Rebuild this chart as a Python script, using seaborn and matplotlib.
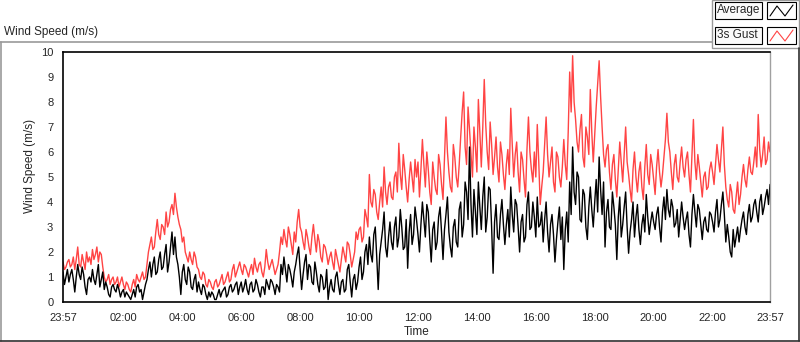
import numpy as np
import pandas as pd
import matplotlib
matplotlib.use("Agg")
import matplotlib.pyplot as plt
from matplotlib.patches import Rectangle
from matplotlib.lines import Line2D
import seaborn as sns

# Wind speed logged over one day, one reading every 3 minutes starting 23:57
# (one row = one hour)
step_min = 3
average = [
    1.2, 0.7, 1.0, 1.3, 0.8, 1.1, 1.3, 0.9, 0.4, 1.0, 1.5, 1.1, 0.9, 1.4, 1.1, 0.6, 0.3, 0.9, 1.0, 0.8,
    1.3, 0.9, 0.7, 1.1, 1.5, 0.6, 0.9, 1.2, 0.5, 0.8, 0.6, 0.3, 0.2, 0.6, 0.7, 0.5, 0.4, 0.7, 0.5, 0.2,
    0.4, 0.5, 0.2, 0.4, 0.3, 0.2, 0.1, 0.3, 0.5, 0.2, 0.6, 0.7, 0.4, 0.5, 0.1, 0.4, 0.7, 0.9, 1.3, 1.6,
    1.0, 1.5, 1.8, 1.1, 1.2, 1.7, 2.0, 1.3, 1.4, 1.9, 2.3, 1.2, 1.6, 2.2, 2.8, 1.9, 2.6, 1.8, 1.5, 1.0,
    0.3, 1.2, 1.5, 0.9, 0.7, 1.4, 1.2, 0.6, 0.5, 0.9, 1.1, 0.4, 0.8, 0.5, 0.3, 0.7, 0.6, 0.3, 0.1, 0.4,
    0.2, 0.4, 0.3, 0.1, 0.1, 0.3, 0.5, 0.2, 0.4, 0.5, 0.6, 0.2, 0.3, 0.6, 0.7, 0.4, 0.5, 0.7, 0.8, 0.3,
    0.6, 0.8, 0.4, 0.6, 0.9, 0.5, 0.3, 0.7, 0.8, 0.4, 0.5, 0.9, 0.7, 0.4, 0.2, 0.6, 0.6, 0.3, 0.9, 0.7,
    0.5, 0.9, 0.8, 0.6, 0.3, 0.7, 0.6, 0.4, 1.5, 1.1, 1.8, 1.3, 0.8, 1.5, 1.3, 1.0, 0.6, 1.2, 1.5, 1.9,
    2.2, 1.3, 0.5, 1.1, 1.6, 1.9, 0.9, 1.5, 1.4, 0.8, 0.7, 1.6, 1.2, 0.7, 0.4, 1.1, 1.0, 0.5, 0.6, 1.3,
    0.1, 0.6, 0.9, 0.5, 0.4, 1.0, 1.2, 0.7, 0.3, 0.8, 0.9, 0.4, 0.5, 1.3, 1.5, 0.8, 0.2, 0.9, 1.1, 0.5,
    0.8, 1.4, 1.8, 0.9, 1.2, 2.0, 2.3, 1.5, 2.6, 1.9, 1.6, 2.7, 3.0, 1.8, 0.5, 1.9, 2.4, 2.9, 3.6, 2.2,
    1.8, 2.6, 3.2, 2.4, 2.1, 3.0, 3.4, 2.2, 2.6, 3.7, 3.0, 2.1, 2.2, 3.3, 1.35, 2.8, 3.5, 2.3, 2.7, 3.8,
    3.3, 2.7, 2.0, 3.1, 4.0, 3.3, 2.6, 3.9, 3.6, 2.5, 1.6, 2.9, 3.2, 2.1, 2.4, 3.4, 3.8, 2.8, 1.7, 2.9,
    3.5, 4.2, 2.8, 2.2, 1.8, 3.0, 3.3, 2.4, 2.2, 3.7, 4.0, 2.6, 3.1, 4.8, 4.4, 3.3, 6.2, 3.9, 2.6, 4.5,
    3.6, 2.7, 4.8, 3.8, 2.9, 4.2, 5.0, 2.8, 3.4, 4.6, 4.5, 3.0, 1.15, 3.2, 3.9, 2.6, 2.5, 3.5, 4.1, 3.1,
    2.3, 3.1, 3.7, 2.6, 4.6, 3.5, 2.8, 4.1, 3.9, 3.0, 2.0, 3.2, 3.5, 2.4, 2.6, 3.9, 4.4, 2.9, 3.0, 4.0,
    3.4, 2.6, 4.2, 3.0, 3.1, 3.6, 2.4, 3.3, 4.0, 2.8, 2.0, 3.1, 3.5, 2.7, 1.6, 2.5, 3.2, 3.8, 2.5, 3.4,
    1.3, 2.9, 3.6, 2.4, 4.8, 3.5, 6.2, 4.4, 3.9, 5.2, 5.0, 3.3, 3.2, 4.5, 4.3, 3.0, 2.5, 3.8, 4.6, 3.7,
    3.0, 4.0, 4.9, 3.6, 5.8, 4.5, 3.5, 4.8, 2.2, 3.6, 4.1, 3.0, 2.9, 4.4, 3.8, 3.1, 1.7, 3.4, 4.2, 2.6,
    3.1, 3.8, 4.4, 3.0, 1.95, 2.8, 3.3, 4.0, 2.6, 3.4, 3.9, 2.9, 2.3, 3.1, 3.5, 2.8, 4.3, 3.4, 2.7, 3.2,
    3.6, 3.2, 2.9, 3.5, 3.8, 3.0, 2.4, 3.6, 4.2, 3.3, 4.5, 3.7, 3.4, 4.1, 3.8, 3.0, 3.15, 3.7, 2.6, 3.3,
    4.0, 3.4, 2.9, 3.3, 3.6, 2.7, 2.2, 3.5, 4.3, 3.6, 3.0, 3.9, 3.7, 3.1, 2.5, 3.2, 3.4, 2.9, 2.8, 3.6,
    3.5, 3.2, 2.8, 3.6, 4.1, 3.0, 3.3, 3.9, 4.4, 3.5, 2.4, 3.1, 2.6, 2.0, 1.8, 2.9, 2.2, 2.6, 3.0, 2.4,
    2.9, 3.3, 3.6, 3.0, 2.7, 3.5, 3.9, 3.2, 3.4, 3.9, 4.1, 3.6, 3.2, 4.0, 4.3, 3.5, 3.8, 4.2, 4.5, 3.9,
    4.7,
]
gust = [
    1.6, 1.3, 1.4, 1.6, 1.7, 1.4, 1.5, 1.8, 1.3, 1.7, 2.2, 1.5, 1.4, 1.9, 1.6, 1.3, 2.0, 1.6, 1.8, 1.5,
    2.1, 1.7, 1.9, 2.2, 1.6, 2.0, 1.9, 1.4, 1.0, 0.8, 0.9, 1.1, 0.7, 0.9, 1.0, 0.7, 0.8, 1.0, 0.6, 0.8,
    1.0, 0.7, 0.5, 0.8, 0.7, 0.5, 0.4, 0.7, 0.9, 0.6, 1.1, 0.9, 0.8, 1.0, 1.2, 0.9, 1.0, 1.5, 2.0, 2.3,
    2.6, 2.1, 2.2, 2.8, 3.3, 2.7, 2.5, 3.1, 3.0, 2.7, 3.6, 3.0, 3.2, 3.7, 3.9, 3.5, 4.35, 3.8, 3.4, 3.1,
    2.9, 2.4, 2.6, 2.0, 1.8, 1.6, 2.0, 1.7, 1.5, 2.0, 1.8, 1.4, 1.3, 1.0, 0.9, 1.2, 1.1, 0.7, 0.6, 0.9,
    0.8, 0.6, 0.5, 0.8, 0.9, 0.6, 0.7, 0.9, 1.1, 0.7, 0.8, 1.0, 1.2, 0.8, 0.9, 1.3, 1.5, 1.0, 1.2, 1.4,
    1.6, 1.3, 1.1, 1.5, 1.4, 1.2, 1.0, 1.3, 1.5, 1.1, 1.75, 1.4, 1.2, 1.5, 1.6, 1.2, 1.0, 1.4, 2.1, 1.6,
    1.3, 1.5, 1.7, 1.4, 1.1, 1.3, 1.5, 2.0, 2.6, 2.3, 2.9, 2.5, 2.2, 3.0, 2.7, 2.3, 1.9, 2.8, 2.4, 3.2,
    3.7, 3.0, 2.8, 2.4, 2.1, 2.9, 2.6, 2.2, 1.9, 2.6, 3.1, 2.5, 2.0, 2.7, 2.4, 1.8, 1.6, 2.3, 2.2, 1.9,
    1.5, 1.8, 2.0, 1.6, 1.3, 2.1, 1.8, 1.5, 1.2, 1.7, 2.2, 1.9, 1.6, 2.4, 2.3, 1.9, 1.4, 1.7, 2.0, 2.8,
    2.5, 2.9, 3.0, 2.4, 2.6, 3.7, 3.4, 3.0, 5.1, 4.0, 3.8, 4.5, 4.3, 3.6, 3.3, 4.0, 4.6, 3.8, 5.4, 4.4,
    3.9, 4.6, 4.8, 4.2, 4.1, 5.0, 5.2, 4.4, 6.35, 5.1, 4.5, 5.9, 5.3, 4.6, 4.0, 4.9, 5.6, 5.0, 4.4, 5.7,
    5.0, 5.6, 4.2, 5.3, 6.5, 5.5, 4.6, 6.0, 5.3, 4.4, 3.9, 5.6, 5.0, 4.5, 4.3, 5.9, 5.5, 4.7, 4.1, 5.8,
    7.4, 6.0, 5.2, 4.6, 4.4, 6.3, 5.8, 5.0, 4.6, 5.5, 6.6, 7.6, 8.4, 6.2, 5.5, 7.8, 6.9, 5.9, 5.0, 7.0,
    6.2, 5.2, 8.1, 6.8, 5.4, 7.0, 8.9, 7.1, 6.0, 5.3, 7.2, 6.3, 5.1, 5.8, 6.6, 5.4, 4.8, 6.4, 5.9, 5.1,
    4.5, 5.5, 6.1, 5.1, 7.75, 6.3, 5.0, 5.9, 6.4, 5.2, 4.4, 6.0, 5.7, 4.9, 4.2, 6.1, 7.4, 6.0, 5.3, 4.8,
    6.0, 5.0, 7.1, 5.6, 3.9, 4.6, 5.2, 6.3, 7.4, 5.9, 5.0, 5.6, 6.2, 4.8, 4.4, 6.0, 5.8, 5.0, 4.6, 5.4,
    6.5, 5.5, 4.9, 6.8, 9.2, 7.6, 9.85, 8.0, 7.3, 6.4, 6.0, 6.9, 7.5, 5.8, 5.4, 7.0, 6.6, 5.9, 8.5, 6.8,
    5.6, 6.7, 7.8, 8.7, 9.65, 8.2, 7.0, 5.9, 5.4, 6.1, 6.3, 5.2, 4.5, 5.5, 5.9, 4.9, 4.2, 5.3, 6.4, 5.6,
    4.8, 5.9, 7.0, 5.6, 5.1, 4.5, 4.0, 5.3, 6.0, 5.0, 4.4, 5.2, 5.6, 4.6, 4.1, 5.4, 6.3, 5.1, 4.7, 5.9,
    5.5, 4.9, 4.3, 5.4, 6.1, 5.2, 4.6, 5.1, 5.8, 6.5, 7.55, 6.4, 6.0, 5.2, 4.5, 5.5, 5.9, 5.0, 4.8, 5.6,
    6.2, 5.4, 5.0, 5.7, 6.0, 5.1, 4.4, 5.8, 7.3, 5.6, 4.9, 5.9, 5.4, 4.8, 4.2, 5.0, 5.2, 4.5, 4.6, 5.3,
    5.6, 5.2, 4.7, 5.5, 6.3, 5.7, 5.2, 6.1, 7.0, 5.5, 4.6, 4.1, 3.8, 4.7, 4.4, 3.7, 3.55, 4.2, 4.8, 3.9,
    4.3, 5.0, 5.5, 4.9, 4.6, 5.3, 5.8, 5.2, 5.1, 5.6, 6.2, 5.4, 7.5, 6.1, 5.4, 5.9, 6.6, 5.5, 5.7, 6.4,
    6.0,
]
tick_labels = ["23:57", "02:00", "04:00", "06:00", "08:00", "10:00", "12:00",
               "14:00", "16:00", "18:00", "20:00", "22:00", "23:57"]

# hours since the first reading
def hours_since_start(label):
    h, m = map(int, label.split(":"))
    return ((h * 60 + m) - (23 * 60 + 57)) % 1440 / 60

tick_pos = [hours_since_start(t) for t in tick_labels]
tick_pos[-1] = 24.0

df = pd.DataFrame({
    "Time": np.arange(len(average)) * step_min / 60,
    "Average": average,
    "3s Gust": gust,
})

sns.set_style("white")
plt.rcParams["font.family"] = ["Liberation Sans", "DejaVu Sans"]

W, H = 800, 342
fig = plt.figure(figsize=(W / 100, H / 100), dpi=100)
ax = fig.add_axes([63 / W, 1 - 302 / H, 707 / W, 250 / H])

sns.lineplot(data=df, x="Time", y="3s Gust", color="#ff4444", linewidth=1.0, ax=ax)
sns.lineplot(data=df, x="Time", y="Average", color="black", linewidth=1.0, ax=ax)

ax.set_xlim(0, 24)
ax.set_ylim(0, 10)
ax.set_yticks(range(0, 11))
ax.set_xticks(tick_pos)
ax.set_xticklabels(tick_labels)
minor = np.arange(tick_pos[1] - 2, 24.001, 2 / 9)
ax.set_xticks([m for m in minor if 0.01 < m < 23.99], minor=True)
ax.tick_params(axis="both", which="major", direction="out", length=5, width=1,
               labelsize=8, pad=2, color="black")
ax.tick_params(axis="x", which="minor", direction="out", length=3, width=1, color="black")
ax.tick_params(axis="x", which="major", length=6)

for side in ["left", "top", "bottom"]:
    ax.spines[side].set_color("black")
    ax.spines[side].set_linewidth(1.2)
ax.spines["right"].set_color("#a0a0a0")
ax.spines["right"].set_linewidth(1)

ax.set_xlabel("Time", fontsize=8.5, labelpad=2)
ax.set_ylabel("")
fig.text(30 / W, 1 - 166 / H, "Wind Speed (m/s)", rotation=90, fontsize=8.5,
         ha="center", va="center")

# graph title above the frame
fig.text(4 / W, 1 - 32 / H, "Wind Speed (m/s)", fontsize=8.5, ha="left", va="center")

# outer frame
fig.add_artist(Line2D([0, 712 / W], [1 - 42 / H] * 2, color="#9a9a9a", lw=1.2))
fig.add_artist(Line2D([0.5 / W] * 2, [1 - 42 / H, 1 - 341 / H], color="#9a9a9a", lw=1.2))
fig.add_artist(Line2D([0, 1], [1 - 341 / H] * 2, color="#303030", lw=1.2))
fig.add_artist(Line2D([799 / W] * 2, [1 - 48 / H, 1 - 341 / H], color="#303030", lw=1.2))

# legend panel
fig.add_artist(Rectangle((712 / W, 1 - 48 / H), 87 / W, 48 / H, transform=fig.transFigure,
                         facecolor="white", edgecolor="#9a9a9a", lw=1))
entries = [("Average", "black", 2, 19), ("3s Gust", "#ff4444", 27, 44)]
for name, col, y0, y1 in entries:
    fig.add_artist(Rectangle((715 / W, 1 - y1 / H), 47 / W, (y1 - y0) / H,
                             transform=fig.transFigure, facecolor="#fafafa",
                             edgecolor="black", lw=0.8))
    fig.text(717 / W, 1 - (y0 + y1) / 2 / H, name, fontsize=8.5, ha="left", va="center")
    fig.add_artist(Rectangle((767 / W, 1 - y1 / H), 29 / W, (y1 - y0) / H,
                             transform=fig.transFigure, facecolor="white",
                             edgecolor="black", lw=0.8))
    zx = [770, 777, 785, 793]
    zy = [y1 - 3, y0 + 4, y1 - 3, y0 + 3]
    fig.add_artist(Line2D([v / W for v in zx], [1 - v / H for v in zy], color=col, lw=0.8))

fig.savefig("out.png", dpi=100)
